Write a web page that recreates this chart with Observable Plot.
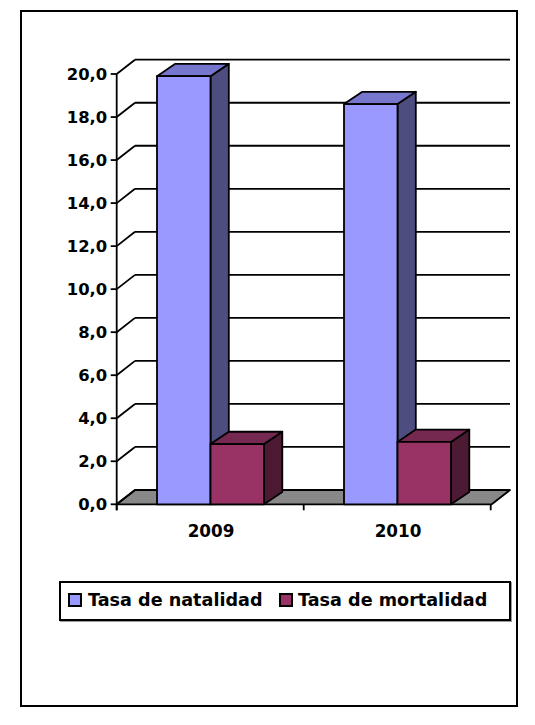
<!DOCTYPE html>
<html>
<head>
<meta charset="utf-8">
<script src="https://cdn.jsdelivr.net/npm/d3@7"></script>
<script src="https://cdn.jsdelivr.net/npm/@observablehq/plot@0.6"></script>
<style>
  body { margin: 0; background: #fff; font-family: "DejaVu Sans", sans-serif; }
  #frame { position: absolute; left: 20px; top: 10px; width: 498px; height: 697px; border: 2px solid #000; box-sizing: border-box; }
  #chart { position: absolute; left: 0; top: 0; }
  #legend { position: absolute; left: 59px; top: 581px; width: 452px; height: 40px; border: 2px solid #000; box-sizing: border-box; box-shadow: 1px 1px 0 #999; background: #fff; }
  .item { position: absolute; top: 0; font-weight: bold; font-size: 17.6px; line-height: 1; white-space: nowrap; }
  .sw { position: absolute; width: 14px; height: 14px; border: 2px solid #000; box-sizing: border-box; }
</style>
</head>
<body>
<div id="frame"></div>
<div id="chart"></div>
<div id="legend"></div>
<script>
// ---- data ----
const years = ["2009", "2010"];
const natalidad = [19.9, 18.6];
const mortalidad = [2.8, 2.9];
const seriesNames = ["Tasa de natalidad", "Tasa de mortalidad"];
const yTicks = [0, 2, 4, 6, 8, 10, 12, 14, 16, 18, 20];

const data = years.flatMap((year, i) => [
  {year, series: seriesNames[0], value: natalidad[i]},
  {year, series: seriesNames[1], value: mortalidad[i]}
]);

// ---- styles ----
const faceColors = {
  [seriesNames[0]]: {front: "#9999FF", top: "#7676CC", side: "#4D4D80"},
  [seriesNames[1]]: {front: "#993366", top: "#752850", side: "#4C1A33"}
};
const fmt = d => d.toFixed(1).replace(".", ",");
const SW = 1.8;
const WALL = [18.3, -14.3];  // depth offset of walls / floor
const BAR = [18.3, -12.3];   // depth offset of bars

function scene(index, scales, values, dims) {
  const {x, y} = scales;
  const bw = x.bandwidth();
  const step = x.step();
  const X0 = dims.marginLeft, X1 = dims.width - dims.marginRight;
  const Y0 = y(0);
  const g = d3.create("svg:g").attr("stroke", "#000").attr("stroke-width", SW).attr("stroke-linejoin", "round");
  const poly = (pts, fill) => g.append("polygon").attr("points", pts.map(p => p.join(",")).join(" ")).attr("fill", fill);
  const line = (x1, y1, x2, y2) => g.append("line").attr("x1", x1).attr("y1", y1).attr("x2", x2).attr("y2", y2);

  // floor
  poly([[X0, Y0], [X1, Y0], [X1 + WALL[0], Y0 + WALL[1]], [X0 + WALL[0], Y0 + WALL[1]]], "#888888");
  // back-wall gridlines and side-wall diagonals
  for (const t of yTicks) {
    const yy = y(t);
    if (t > 0) line(X0 + WALL[0], yy + WALL[1], X1 + WALL[0], yy + WALL[1]);
    line(X0, yy, X0 + WALL[0], yy + WALL[1]);
    line(X0 - 6, yy, X0, yy); // y tick
  }
  // front y axis
  line(X0, y(yTicks[yTicks.length - 1]), X0, Y0 + 6);
  // x ticks at band boundaries
  for (let i = 0; i <= years.length; i++) {
    const xx = X0 + i * step;
    line(xx, Y0, xx, Y0 + 6);
  }
  // bars
  for (const d of data) {
    const k = seriesNames.indexOf(d.series);
    const xa = x(d.year) + k * bw / 2, xb = xa + bw / 2;
    const yt = y(d.value);
    const c = faceColors[d.series];
    poly([[xb, yt], [xb + BAR[0], yt + BAR[1]], [xb + BAR[0], Y0 + BAR[1]], [xb, Y0]], c.side);
    poly([[xa, yt], [xa + BAR[0], yt + BAR[1]], [xb + BAR[0], yt + BAR[1]], [xb, yt]], c.top);
    poly([[xa, yt], [xb, yt], [xb, Y0], [xa, Y0]], c.front);
  }
  return g.node();
}

const chart = Plot.plot({
  width: 535,
  height: 560,
  marginLeft: 116.7,
  marginRight: 43.3,
  marginTop: 74,
  marginBottom: 55.7,
  x: {domain: years, paddingInner: 0.43, paddingOuter: 0.215, axis: null},
  y: {domain: [0, 20], axis: null},
  style: {fontFamily: "DejaVu Sans", background: "transparent"},
  marks: [
    Plot.barY(data, {x: "year", y1: 0, y2: "value", fill: "none", stroke: "none"}),
    scene,
    Plot.text(yTicks, {y: d => d, text: fmt, frameAnchor: "left", dx: -10, textAnchor: "end",
      fontSize: 16.4, fontWeight: "bold", fill: "#000"}),
    Plot.text(years, {x: d => d, text: d => d, frameAnchor: "bottom", dy: 20, lineAnchor: "top",
      fontSize: 16.8, fontWeight: "bold", fill: "#000"})
  ]
});
document.getElementById("chart").appendChild(chart);

// ---- legend ----
const legend = document.getElementById("legend");
const items = [
  {name: seriesNames[0], sw: 68, tx: 88},
  {name: seriesNames[1], sw: 279, tx: 298}
];
for (const it of items) {
  const s = document.createElement("div");
  s.className = "sw";
  s.style.left = (it.sw - 61) + "px";
  s.style.top = (593 - 583) + "px";
  s.style.background = faceColors[it.name].front;
  legend.appendChild(s);
  const t = document.createElement("div");
  t.className = "item";
  t.style.left = (it.tx - 61) + "px";
  t.style.top = (591.5 - 583) + "px";
  t.textContent = it.name;
  legend.appendChild(t);
}
</script>
</body>
</html>
